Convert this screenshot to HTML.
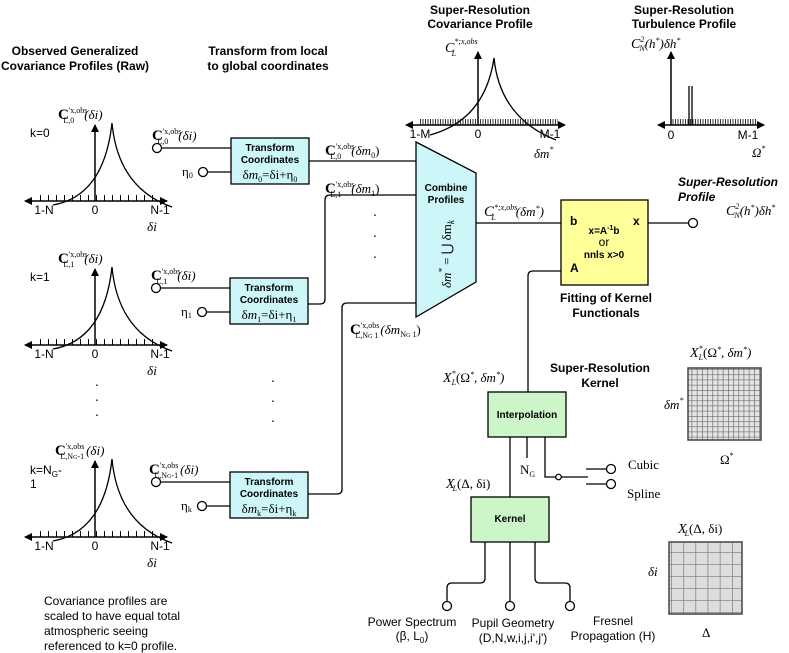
<!DOCTYPE html>
<html><head><meta charset="utf-8"><style>
html,body{margin:0;padding:0;background:#fff}
svg{display:block}
.b{font-family:"Liberation Sans",sans-serif;font-weight:bold;font-size:12px}
.s{font-family:"Liberation Sans",sans-serif;font-size:12px}
.m{font-family:"Liberation Serif",serif;font-size:13px}
.bx{font-family:"Liberation Sans",sans-serif;font-weight:bold;font-size:10px}
</style></head><body>
<svg width="789" height="653" viewBox="0 0 789 653" xmlns="http://www.w3.org/2000/svg">
<defs>
<marker id="ar" markerWidth="8" markerHeight="8" refX="7" refY="4" orient="auto" markerUnits="userSpaceOnUse"><path d="M0,0 L8,4 L0,8 z" fill="#000"/></marker>
<pattern id="tk" width="8" height="6" patternUnits="userSpaceOnUse"><line x1="0.5" y1="0" x2="0.5" y2="6" stroke="#000" stroke-width="1"/></pattern>
<pattern id="tkf" width="2.5" height="6" patternUnits="userSpaceOnUse"><line x1="0.5" y1="0" x2="0.5" y2="6" stroke="#000" stroke-width="0.8"/></pattern>
<pattern id="g1" width="5.2" height="5.2" patternUnits="userSpaceOnUse"><rect width="5.2" height="5.2" fill="#e4e4e4"/><path d="M0,0 H5.2 M0,0 V5.2" stroke="#666" stroke-width="1.3"/></pattern>
<pattern id="g2" width="12.2" height="12" patternUnits="userSpaceOnUse"><rect width="12.2" height="12" fill="#ddd"/><path d="M0,0 H12.2 M0,0 V12" stroke="#777" stroke-width="1.3"/></pattern>
</defs>

<!-- headings -->
<text class="b" x="75" y="55" text-anchor="middle">Observed Generalized</text>
<text class="b" x="75" y="70" text-anchor="middle">Covariance Profiles (Raw)</text>
<text class="b" x="268" y="55" text-anchor="middle">Transform from local</text>
<text class="b" x="268" y="70" text-anchor="middle">to global coordinates</text>
<text class="b" x="480" y="14" text-anchor="middle">Super-Resolution</text>
<text class="b" x="480" y="28" text-anchor="middle">Covariance Profile</text>
<text class="b" x="684" y="14" text-anchor="middle">Super-Resolution</text>
<text class="b" x="684" y="28" text-anchor="middle">Turbulence Profile</text>

<!-- left plots -->
<g id="p1">
<rect x="40" y="195" width="120" height="6" fill="url(#tk)"/>
<line x1="95" y1="201" x2="95" y2="125" stroke="#000" stroke-width="1.5" marker-end="url(#ar)"/>
<line x1="95" y1="201" x2="25" y2="201" stroke="#000" stroke-width="1.5" marker-end="url(#ar)"/>
<line x1="95" y1="201" x2="167" y2="201" stroke="#000" stroke-width="1.5" marker-end="url(#ar)"/>
<path d="M53,205 Q104,196 112,123 Q118,188 172,207" fill="none" stroke="#000" stroke-width="1.3"/>
<text class="s" x="44" y="214" text-anchor="middle">1-N</text>
<text class="s" x="95" y="214" text-anchor="middle">0</text>
<text class="s" x="160" y="214" text-anchor="middle">N-1</text>
<text class="m" x="152" y="231" font-style="italic" text-anchor="middle">δi</text>
</g>
<use href="#p1" y="144"/>
<use href="#p1" y="336"/>
<text class="s" x="30" y="137">k=0</text>
<text class="m" x="58" y="119"><tspan font-weight="bold" font-size="15">C</tspan><tspan font-size="8" dy="-6">'x,obs</tspan><tspan font-size="8" dx="-24" dy="10">L,0</tspan><tspan dy="-4" dx="10" font-style="italic">(δi)</tspan></text>
<text class="s" x="30" y="281">k=1</text>
<text class="m" x="58" y="263"><tspan font-weight="bold" font-size="15">C</tspan><tspan font-size="8" dy="-6">'x,obs</tspan><tspan font-size="8" dx="-24" dy="10">L,1</tspan><tspan dy="-4" dx="10" font-style="italic">(δi)</tspan></text>
<text class="s" x="30" y="474">k=N<tspan font-size="8" dy="3">G</tspan><tspan dy="-3">-</tspan></text>
<text class="s" x="30" y="488">1</text>
<text class="m" x="55" y="455"><tspan font-weight="bold" font-size="15">C</tspan><tspan font-size="8" dy="-6">'x,obs</tspan><tspan font-size="8" dx="-24" dy="10">L,N<tspan font-size="6">G</tspan>-1</tspan><tspan dy="-4" dx="2" font-style="italic">(δi)</tspan></text>
<g font-size="14" font-family="Liberation Sans"><text x="95" y="386">.</text><text x="95" y="401">.</text><text x="95" y="416">.</text>
<text x="271" y="382">.</text><text x="271" y="402">.</text><text x="271" y="422">.</text>
<text x="373" y="216">.</text><text x="373" y="237">.</text><text x="373" y="258">.</text></g>

<!-- transform boxes -->
<g id="tb">
<circle cx="157" cy="148" r="4.5" fill="#fff" stroke="#000" stroke-width="1.3"/>
<line x1="161.5" y1="148" x2="231" y2="148" stroke="#000" stroke-width="1.3"/>
<circle cx="203" cy="172" r="4.5" fill="#fff" stroke="#000" stroke-width="1.3"/>
<line x1="207.5" y1="172" x2="231" y2="172" stroke="#000" stroke-width="1.3"/>
<rect x="231" y="138" width="78" height="46" fill="#ccf6f8" stroke="#000" stroke-width="1.3"/>
<text class="bx" x="270" y="151" text-anchor="middle">Transform</text>
<text class="bx" x="270" y="163" text-anchor="middle">Coordinates</text>
</g>
<use href="#tb" x="-1" y="140"/>
<use href="#tb" x="-1" y="334"/>
<text class="m" x="152" y="140"><tspan font-weight="bold" font-size="15">C</tspan><tspan font-size="8" dy="-6">'x,obs</tspan><tspan font-size="8" dx="-24" dy="10">L,0</tspan><tspan dy="-4" dx="10" font-style="italic">(δi)</tspan></text>
<text class="m" x="182" y="176" font-size="11">η<tspan font-size="8" dy="2">0</tspan></text>
<text class="m" x="270" y="179" text-anchor="middle" font-size="12">δ<tspan font-style="italic">m</tspan><tspan font-size="8" dy="3">0</tspan><tspan dy="-3">=δi+η</tspan><tspan font-size="8" dy="3">0</tspan></text>
<text class="m" x="151" y="280"><tspan font-weight="bold" font-size="15">C</tspan><tspan font-size="8" dy="-6">'x,obs</tspan><tspan font-size="8" dx="-24" dy="10">L,1</tspan><tspan dy="-4" dx="10" font-style="italic">(δi)</tspan></text>
<text class="m" x="181" y="316" font-size="11">η<tspan font-size="8" dy="2">1</tspan></text>
<text class="m" x="269" y="319" text-anchor="middle" font-size="12">δ<tspan font-style="italic">m</tspan><tspan font-size="8" dy="3">1</tspan><tspan dy="-3">=δi+η</tspan><tspan font-size="8" dy="3">1</tspan></text>
<text class="m" x="149" y="474"><tspan font-weight="bold" font-size="15">C</tspan><tspan font-size="8" dy="-6">'x,obs</tspan><tspan font-size="8" dx="-24" dy="10">L,N<tspan font-size="6">G</tspan>-1</tspan><tspan dy="-4" dx="2" font-style="italic">(δi)</tspan></text>
<text class="m" x="181" y="510" font-size="11">η<tspan font-size="8" dy="2">k</tspan></text>
<text class="m" x="269" y="513" text-anchor="middle" font-size="12">δ<tspan font-style="italic">m</tspan><tspan font-size="8" dy="3">k</tspan><tspan dy="-3">=δi+η</tspan><tspan font-size="8" dy="3">k</tspan></text>

<!-- connectors to combine -->
<g fill="none" stroke="#000" stroke-width="1.3">
<line x1="309" y1="161" x2="416" y2="161"/>
<path d="M308,304 H320 Q325,304 325,299 V200 Q325,195 330,195 H416"/>
<path d="M308,494 H337 Q342,494 342,489 V308 Q342,303 347,303 H416"/>
<line x1="476" y1="223" x2="561" y2="223"/>
<line x1="648" y1="223" x2="688" y2="223"/>
<path d="M561,271 H533 Q528,271 528,276 V392"/>
</g>
<text class="m" x="325" y="155"><tspan font-weight="bold" font-size="15">C</tspan><tspan font-size="8" dy="-6">'x,obs</tspan><tspan font-size="8" dx="-24" dy="10">L,0</tspan><tspan dy="-4" dx="10" font-style="italic">(δm</tspan><tspan font-size="8" dy="3">0</tspan><tspan dy="-3">)</tspan></text>
<text class="m" x="325" y="193"><tspan font-weight="bold" font-size="15">C</tspan><tspan font-size="8" dy="-6">'x,obs</tspan><tspan font-size="8" dx="-24" dy="10">L,1</tspan><tspan dy="-4" dx="10" font-style="italic">(δm</tspan><tspan font-size="8" dy="3">1</tspan><tspan dy="-3">)</tspan></text>
<text class="m" x="350" y="334"><tspan font-weight="bold" font-size="15">C</tspan><tspan font-size="8" dy="-6">'x,obs</tspan><tspan font-size="8" dx="-24" dy="10">L,N<tspan font-size="6">G</tspan> 1</tspan><tspan dy="-4" dx="2" font-style="italic">(δm</tspan><tspan font-size="8" dy="3">N<tspan font-size="6">G</tspan> 1</tspan><tspan dy="-3">)</tspan></text>

<!-- combine trapezoid -->
<polygon points="416,142 476,173 476,282 416,317" fill="#ccf6f8" stroke="#000" stroke-width="1.3"/>
<text class="bx" x="446" y="191" text-anchor="middle">Combine</text>
<text class="bx" x="446" y="203" text-anchor="middle">Profiles</text>
<text class="m" transform="translate(451,288) rotate(-90)" font-size="15" font-style="italic">δm<tspan font-size="9" dy="-6">*</tspan><tspan dy="6" font-style="normal"> = ⋃ δm</tspan><tspan font-size="9" dy="3">k</tspan></text>
<text class="m" x="484" y="216" font-style="italic"><tspan font-size="15">C</tspan><tspan font-size="8" dy="-6">*;x,obs</tspan><tspan font-size="8" dx="-26" dy="10">L</tspan><tspan dy="-4" dx="20">(δm</tspan><tspan font-size="8" dy="-5">*</tspan><tspan dy="5">)</tspan></text>

<!-- fitting box -->
<rect x="561" y="200" width="87" height="85" fill="#ffff99" stroke="#000" stroke-width="1.3"/>
<text class="b" x="570" y="225">b</text>
<text class="b" x="633" y="225">x</text>
<text class="bx" x="604" y="234" text-anchor="middle">x=A<tspan font-size="7" dy="-4">-1</tspan><tspan dy="4">b</tspan></text>
<text class="s" x="604" y="246" text-anchor="middle" font-size="9">or</text>
<text class="bx" x="604" y="258" text-anchor="middle">nnls x&gt;0</text>
<text class="b" x="570" y="272">A</text>
<circle cx="693" cy="223" r="4.5" fill="#fff" stroke="#000" stroke-width="1.3"/>
<text class="b" x="606" y="302" text-anchor="middle">Fitting of Kernel</text>
<text class="b" x="606" y="317" text-anchor="middle">Functionals</text>
<text class="b" x="678" y="186" font-style="italic">Super-Resolution</text>
<text class="b" x="678" y="201" font-style="italic">Profile</text>
<text class="m" x="726" y="215" font-style="italic"><tspan font-size="14">C</tspan><tspan font-size="8" dy="-6">2</tspan><tspan font-size="8" dx="-5" dy="9">N</tspan><tspan dy="-3">(h</tspan><tspan font-size="8" dy="-5">*</tspan><tspan dy="5">)δh</tspan><tspan font-size="8" dy="-5">*</tspan></text>

<!-- top covariance plot -->
<rect x="420" y="119" width="138" height="6" fill="url(#tkf)"/>
<line x1="478" y1="125" x2="478" y2="52" stroke="#000" stroke-width="1.5" marker-end="url(#ar)"/>
<line x1="478" y1="125" x2="406" y2="125" stroke="#000" stroke-width="1.5" marker-end="url(#ar)"/>
<line x1="478" y1="125" x2="565" y2="125" stroke="#000" stroke-width="1.5" marker-end="url(#ar)"/>
<path d="M430,135 Q485,120 494,58 Q500,118 556,140" fill="none" stroke="#000" stroke-width="1.3"/>
<text class="s" x="420" y="138" text-anchor="middle" font-size="10">1-M</text>
<text class="s" x="478" y="138" text-anchor="middle" font-size="10">0</text>
<text class="s" x="550" y="138" text-anchor="middle" font-size="10">M-1</text>
<text class="m" x="534" y="158" font-style="italic" font-size="14">δm<tspan font-size="8" dy="-6">*</tspan></text>
<text class="m" x="445" y="52" font-style="italic"><tspan font-size="14">C</tspan><tspan font-size="8" dy="-8">*;x,obs</tspan><tspan font-size="8" dx="-26" dy="12">L</tspan></text>

<!-- turbulence plot -->
<rect x="672" y="119" width="85" height="6" fill="url(#tkf)"/>
<line x1="671" y1="125" x2="671" y2="52" stroke="#000" stroke-width="1.5" marker-end="url(#ar)"/>
<line x1="671" y1="125" x2="658" y2="125" stroke="#000" stroke-width="1.5" marker-end="url(#ar)"/>
<line x1="671" y1="125" x2="764" y2="125" stroke="#000" stroke-width="1.5" marker-end="url(#ar)"/>
<line x1="689" y1="86" x2="689" y2="125" stroke="#000" stroke-width="1.3"/>
<line x1="692" y1="86" x2="692" y2="125" stroke="#000" stroke-width="1.3"/>
<text class="s" x="671" y="139" text-anchor="middle" font-size="10">0</text>
<text class="s" x="748" y="139" text-anchor="middle" font-size="10">M-1</text>
<text class="m" x="752" y="157" font-style="italic" font-size="14">Ω<tspan font-size="8" dy="-6">*</tspan></text>
<text class="m" x="631" y="48" font-style="italic"><tspan font-size="14">C</tspan><tspan font-size="8" dy="-6">2</tspan><tspan font-size="8" dx="-5" dy="9">N</tspan><tspan dy="-3">(h</tspan><tspan font-size="8" dy="-5">*</tspan><tspan dy="5">)δh</tspan><tspan font-size="8" dy="-5">*</tspan></text>

<!-- kernel section -->
<text class="b" x="600" y="372" text-anchor="middle">Super-Resolution</text>
<text class="b" x="600" y="387" text-anchor="middle">Kernel</text>
<text class="m" x="443" y="382" font-style="italic"><tspan font-size="14">X</tspan><tspan font-size="8" dy="-6">*</tspan><tspan font-size="8" dx="-4" dy="9">L</tspan><tspan dy="-3" font-style="normal">(Ω</tspan><tspan font-size="8" dy="-5">*</tspan><tspan dy="5">, δm</tspan><tspan font-size="8" dy="-5">*</tspan><tspan dy="5">)</tspan></text>
<g fill="none" stroke="#000" stroke-width="1.3">
<line x1="510" y1="437" x2="510" y2="497"/>
<line x1="527" y1="437" x2="527" y2="458"/>
<path d="M545,437 V477 H556"/>
<line x1="561" y1="477" x2="588" y2="477"/>
<line x1="586" y1="469" x2="607" y2="469"/>
<line x1="586" y1="484" x2="607" y2="484"/>
<path d="M485,542 V578 Q485,583 480,583 H452 Q447,583 447,588 V602"/>
<line x1="510" y1="542" x2="510" y2="602"/>
<path d="M535,542 V578 Q535,583 540,583 H565 Q570,583 570,588 V602"/>
</g>
<rect x="488" y="392" width="78" height="45" fill="#ccf5c8" stroke="#000" stroke-width="1.3"/>
<text class="bx" x="527" y="418" text-anchor="middle">Interpolation</text>
<rect x="471" y="497" width="78" height="45" fill="#ccf5c8" stroke="#000" stroke-width="1.3"/>
<text class="bx" x="510" y="522" text-anchor="middle">Kernel</text>
<text class="m" x="520" y="474" font-size="12">N<tspan font-size="8" dy="3">G</tspan></text>
<circle cx="558.5" cy="477" r="2.8" fill="#fff" stroke="#000" stroke-width="1.2"/>
<circle cx="611" cy="469" r="4.5" fill="#fff" stroke="#000" stroke-width="1.3"/>
<circle cx="611" cy="484" r="4.5" fill="#fff" stroke="#000" stroke-width="1.3"/>
<text class="m" x="628" y="469" font-size="13">Cubic</text>
<text class="m" x="627" y="498" font-size="13">Spline</text>
<text class="m" x="446" y="488" font-style="italic"><tspan font-size="14">X</tspan><tspan font-size="8" dx="-2" dy="3">L</tspan><tspan dy="-3" font-style="normal">(Δ, δi)</tspan></text>
<circle cx="447" cy="606" r="4.5" fill="#fff" stroke="#000" stroke-width="1.3"/>
<circle cx="510" cy="606" r="4.5" fill="#fff" stroke="#000" stroke-width="1.3"/>
<circle cx="570" cy="606" r="4.5" fill="#fff" stroke="#000" stroke-width="1.3"/>
<text class="s" x="412" y="626" text-anchor="middle">Power Spectrum</text>
<text class="s" x="412" y="640" text-anchor="middle">(β, L<tspan font-size="8" dy="3">0</tspan><tspan dy="-3">)</tspan></text>
<text class="s" x="513" y="627" text-anchor="middle">Pupil Geometry</text>
<text class="s" x="513" y="642" text-anchor="middle">(D,N,w,i,j,i',j')</text>
<text class="s" x="613" y="625" text-anchor="middle">Fresnel</text>
<text class="s" x="613" y="640" text-anchor="middle">Propagation (H)</text>

<!-- grids -->
<rect x="688" y="368" width="73" height="72" fill="url(#g1)" stroke="#444" stroke-width="1.5"/>
<text class="m" x="690" y="357" font-style="italic"><tspan font-size="14">X</tspan><tspan font-size="8" dy="-6">*</tspan><tspan font-size="8" dx="-4" dy="9">L</tspan><tspan dy="-3" font-style="normal">(Ω</tspan><tspan font-size="8" dy="-5">*</tspan><tspan dy="5">, δm</tspan><tspan font-size="8" dy="-5">*</tspan><tspan dy="5">)</tspan></text>
<text class="m" x="664" y="409" font-style="italic" font-size="14">δm<tspan font-size="8" dy="-6">*</tspan></text>
<text class="m" x="720" y="464" font-size="14">Ω<tspan font-size="8" dy="-6">*</tspan></text>
<rect x="669" y="542" width="73" height="72" fill="url(#g2)" stroke="#444" stroke-width="1.5"/>
<text class="m" x="678" y="533" font-style="italic"><tspan font-size="14">X</tspan><tspan font-size="8" dx="-2" dy="3">L</tspan><tspan dy="-3" font-style="normal">(Δ, δi)</tspan></text>
<text class="m" x="648" y="576" font-style="italic" font-size="14">δi</text>
<text class="m" x="702" y="637" font-size="14">Δ</text>

<!-- note -->
<text class="s" x="44" y="605">Covariance profiles are</text>
<text class="s" x="44" y="620">scaled to have equal total</text>
<text class="s" x="44" y="635">atmospheric seeing</text>
<text class="s" x="44" y="650">referenced to k=0 profile.</text>
</svg>
</body></html>
